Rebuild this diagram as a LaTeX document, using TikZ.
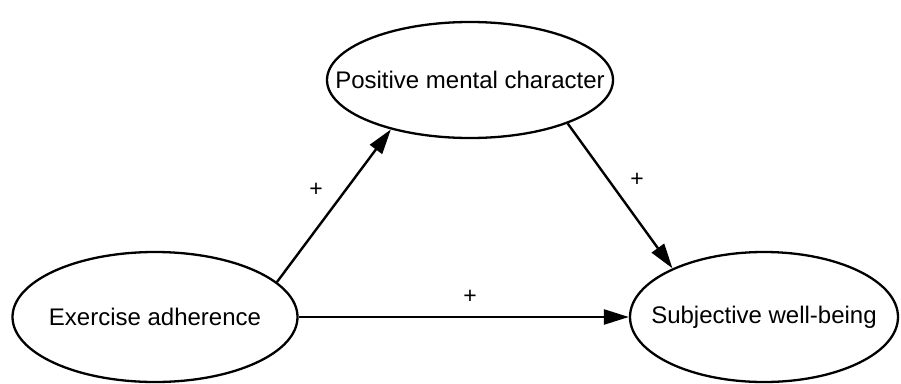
\documentclass[tikz,border=0pt]{standalone}
\usepackage{fontspec}
\setmainfont{Liberation Sans}
\usetikzlibrary{shapes.geometric,arrows.meta}
\begin{document}
\begin{tikzpicture}[x=1pt,y=-1pt,
  var/.style={draw, ellipse, line width=2.3pt, inner sep=0pt},
  lbl/.style={font=\fontsize{24}{27}\selectfont},
  path/.style={line width=2.4pt, -{Triangle[length=25pt,width=15pt]}},
  sign/.style={font=\fontsize{23}{25}\selectfont, inner sep=0pt}]
\useasboundingbox (0,0) rectangle (901,383);
\node[var, minimum width=285pt, minimum height=130pt, label={[lbl]center:Exercise adherence}] (ea) at (155,317) {};
\node[var, minimum width=286pt, minimum height=116pt, label={[lbl]center:Positive mental character}] (pmc) at (470,80) {};
\node[var, minimum width=268pt, minimum height=130pt, label={[lbl]center:Subjective well-being}] (swb) at (764,317) {};
\draw[path] (ea.16) -- (pmc.212);
\draw[path] (pmc.336) -- (swb.152);
\draw[path] (ea.east) -- (swb.west);
\node[sign] (s1) at (316,190) {+};
\node[sign] (s2) at (637,180) {+};
\node[sign] (s3) at (470,297) {+};
\end{tikzpicture}
\end{document}
